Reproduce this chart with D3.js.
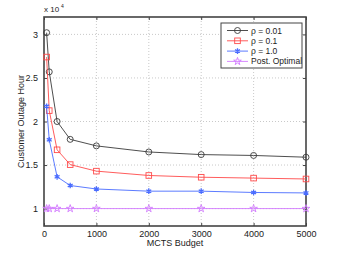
<!DOCTYPE html>
<html>
<head>
<meta charset="utf-8">
<script src="https://cdn.jsdelivr.net/npm/d3@7"></script>
<style>
  body { margin: 0; background: #fff; }
  text { font-family: "Liberation Sans", Arial, sans-serif; fill: #222; }
</style>
</head>
<body>
<div id="chart"></div>
<script>
const budgets = [50, 100, 250, 500, 1000, 2000, 3000, 4000, 5000];
const rho001 = [30200, 25700, 20000, 17950, 17200, 16500, 16200, 16100, 15900];
const rho01 = [27400, 21250, 16750, 15050, 14300, 13800, 13600, 13500, 13400];
const rho1 = [21750, 17900, 13650, 12650, 12250, 12000, 12000, 11850, 11800];
const postOpt = [10000, 10000, 10000, 10000, 10000, 10000, 10000, 10000, 10000];
const seriesNames = ["\u03c1 = 0.01", "\u03c1 = 0.1", "\u03c1 = 1.0", "Post. Optimal"];
const xTicks = [0, 1000, 2000, 3000, 4000, 5000];
const yTicks = [10000, 15000, 20000, 25000, 30000];

const w = 338, h = 254;
const margin = {top: 17, right: 32, bottom: 28, left: 44};

const svg = d3.select("#chart").append("svg")
    .attr("width", w).attr("height", h);

const x = d3.scaleLinear().domain([0, 5000]).range([margin.left, w - margin.right]);
const y = d3.scaleLinear().domain([8000, 32000]).range([h - margin.bottom, margin.top]);

const series = [
  {name: seriesNames[0], values: rho001, color: "#3a3a3a", marker: "circle"},
  {name: seriesNames[1], values: rho01, color: "#ff4a4a", marker: "square"},
  {name: seriesNames[2], values: rho1, color: "#4a6cff", marker: "asterisk"},
  {name: seriesNames[3], values: postOpt, color: "#d27bff", marker: "star"}
];

// grid
const grid = svg.append("g").attr("stroke", "#bbb").attr("stroke-dasharray", "1,2").attr("stroke-width", 0.8);
xTicks.slice(1, -1).forEach(t => {
  grid.append("line").attr("x1", x(t)).attr("x2", x(t)).attr("y1", y.range()[0]).attr("y2", y.range()[1]);
});
yTicks.forEach(t => {
  grid.append("line").attr("x1", x.range()[0]).attr("x2", x.range()[1]).attr("y1", y(t)).attr("y2", y(t));
});

// axes with inward ticks
svg.append("g").attr("transform", "translate(0," + y.range()[0] + ")")
    .call(d3.axisBottom(x).tickValues(xTicks).tickSize(-3).tickPadding(5).tickFormat(d3.format("d")));
svg.append("g").attr("transform", "translate(" + x.range()[0] + ",0)")
    .call(d3.axisLeft(y).tickValues(yTicks).tickSize(-3).tickPadding(6).tickFormat(d => d / 10000));
svg.append("g").attr("transform", "translate(" + x.range()[1] + ",0)")
    .call(d3.axisRight(y).tickValues(yTicks).tickSize(-3).tickFormat(""));
svg.append("g").attr("transform", "translate(0," + y.range()[1] + ")")
    .call(d3.axisTop(x).tickValues(xTicks).tickSize(-3).tickFormat(""));
svg.selectAll(".domain").remove();
svg.selectAll(".tick line").attr("stroke", "#444");
svg.selectAll(".tick text").attr("font-size", 9).attr("fill", "#222");

// frame
svg.append("rect")
    .attr("x", x.range()[0]).attr("y", y.range()[1])
    .attr("width", x.range()[1] - x.range()[0]).attr("height", y.range()[0] - y.range()[1])
    .attr("fill", "none").attr("stroke", "#444").attr("stroke-width", 1.6);

svg.append("text").attr("x", 44).attr("y", 12).attr("font-size", 8).text("x 10");
svg.append("text").attr("x", 61).attr("y", 8).attr("font-size", 5).text("4");

svg.append("text").attr("x", (x.range()[0] + x.range()[1]) / 2).attr("y", 246)
    .attr("text-anchor", "middle").attr("font-size", 9).text("MCTS Budget");
svg.append("text").attr("transform", "translate(24," + ((y.range()[0] + y.range()[1]) / 2) + ") rotate(-90)")
    .attr("text-anchor", "middle").attr("font-size", 9).text("Customer Outage Hour");

function drawMarker(g, type, color) {
  if (type === "circle") {
    g.append("circle").attr("r", 3).attr("fill", "none").attr("stroke", color).attr("stroke-width", 0.9);
  } else if (type === "square") {
    g.append("rect").attr("x", -2.8).attr("y", -2.8).attr("width", 5.6).attr("height", 5.6)
      .attr("fill", "none").attr("stroke", color).attr("stroke-width", 0.9);
  } else if (type === "asterisk") {
    g.append("path").attr("d", d3.symbol(d3.symbolAsterisk, 22)()).attr("fill", "none").attr("stroke", color).attr("stroke-width", 1.3);
  } else {
    g.append("path").attr("d", d3.symbol(d3.symbolStar, 18)()).attr("fill", "none").attr("stroke", color).attr("stroke-width", 0.9);
  }
}

const line = d3.line().x(d => x(d[0])).y(d => y(d[1]));
series.forEach(s => {
  const pts = budgets.map((b, i) => [b, s.values[i]]);
  svg.append("path").datum(pts).attr("d", line).attr("fill", "none")
      .attr("stroke", s.color).attr("stroke-width", 0.9);
  pts.forEach(p => {
    const g = svg.append("g").attr("transform", "translate(" + x(p[0]) + "," + y(p[1]) + ")");
    drawMarker(g, s.marker, s.color);
  });
});

// legend
const lg = svg.append("g").attr("transform", "translate(221,23)");
lg.append("rect").attr("width", 81).attr("height", 45).attr("fill", "#fff")
    .attr("stroke", "#444").attr("stroke-width", 1);
series.forEach((s, i) => {
  const yy = 7.5 + i * 10.3;
  lg.append("line").attr("x1", 6).attr("x2", 27).attr("y1", yy).attr("y2", yy)
      .attr("stroke", s.color).attr("stroke-width", 0.9);
  const g = lg.append("g").attr("transform", "translate(16.5," + yy + ")");
  drawMarker(g, s.marker, s.color);
  lg.append("text").attr("x", 30).attr("y", yy + 3).attr("font-size", 8.5).text(s.name);
});
</script>
</body>
</html>
